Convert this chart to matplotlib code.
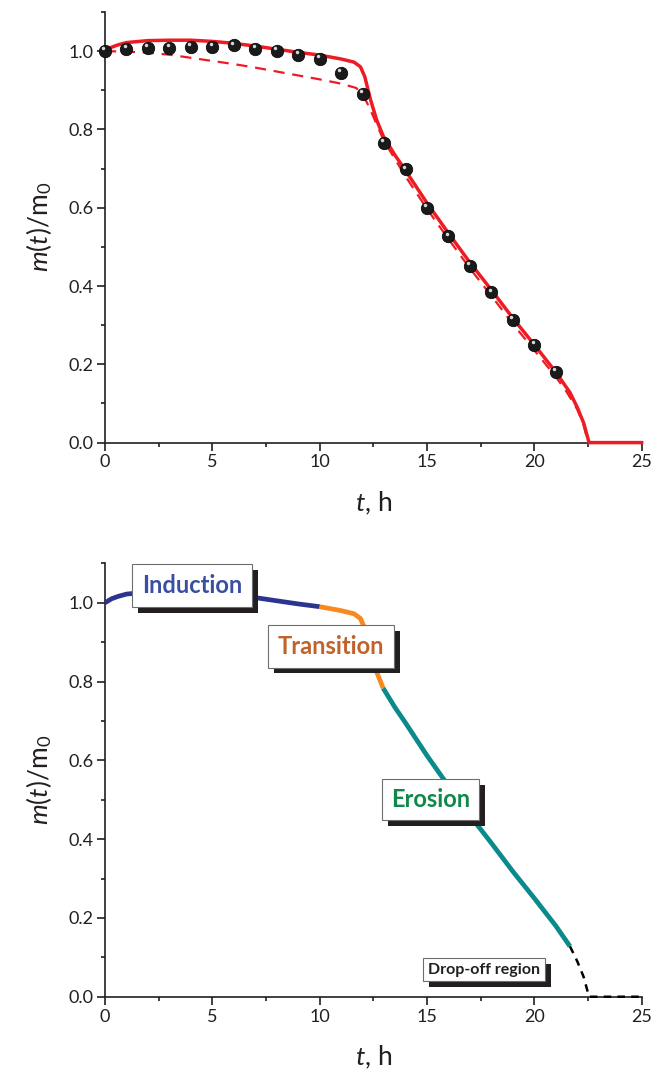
import matplotlib
matplotlib.use("Agg")
import matplotlib.pyplot as plt
import matplotlib.patheffects as pe
from matplotlib.ticker import MultipleLocator
from matplotlib.transforms import ScaledTranslation

plt.rcParams['font.family'] = ['Lato', 'DejaVu Sans']
plt.rcParams['mathtext.fontset'] = 'custom'
plt.rcParams['mathtext.rm'] = 'Lato'
plt.rcParams['mathtext.it'] = 'Lato:italic'

# model curve (solid)
t_model = [0, 0.3, 0.6, 1, 2, 3, 4, 5, 6, 7, 8, 9, 10, 11, 11.6, 11.9, 12.1, 12.37,
           12.65, 12.96, 13.5, 14, 15, 16, 17, 18, 19, 20, 21, 21.66, 22, 22.3, 22.45, 22.55, 25]
m_model = [1.0, 1.01, 1.016, 1.022, 1.027, 1.028, 1.028, 1.025, 1.02, 1.013, 1.005, 0.997,
           0.99, 0.98, 0.972, 0.96, 0.935, 0.876, 0.825, 0.783, 0.735, 0.695, 0.612, 0.535,
           0.46, 0.39, 0.318, 0.25, 0.18, 0.128, 0.09, 0.05, 0.02, 0.0, 0.0]

# second model (dashed)
t_dash = [0, 1, 2, 3, 4, 5, 6, 7, 8, 9, 10, 11, 11.7, 12.0, 12.3, 12.6, 13, 14, 15, 16, 17,
          18, 19, 20, 21, 21.5, 22, 22.3, 22.5, 25]
m_dash = [1.0, 0.999, 0.996, 0.991, 0.983, 0.975, 0.967, 0.958, 0.948, 0.938, 0.928, 0.917,
          0.906, 0.89, 0.858, 0.82, 0.77, 0.68, 0.597, 0.52, 0.445, 0.375, 0.303, 0.236,
          0.168, 0.13, 0.085, 0.045, 0.0, 0.0]

# experimental points
t_exp = list(range(22))
m_exp = [1.0, 1.005, 1.008, 1.008, 1.01, 1.01, 1.015, 1.005, 1.0, 0.99, 0.98, 0.945, 0.89,
         0.765, 0.698, 0.6, 0.527, 0.452, 0.384, 0.313, 0.25, 0.18]

# phase boundaries (t)
t_ind_end = 10
t_trans_end = 12.96
t_eros_end = 21.66

red = '#ed1c24'
axcol = '#231f20'

fig = plt.figure(figsize=(6.54, 10.84), dpi=100)
ax1 = fig.add_axes([0.1606, 0.5917, 0.8205, 0.3972])
ax2 = fig.add_axes([0.1606, 0.0805, 0.8205, 0.3998])


def style(ax):
    ax.set_xlim(0, 25)
    ax.set_ylim(0, 1.1)
    for s in ['top', 'right']:
        ax.spines[s].set_visible(False)
    for s in ['left', 'bottom']:
        ax.spines[s].set_color(axcol)
        ax.spines[s].set_linewidth(1.2)
    ax.xaxis.set_major_locator(MultipleLocator(5))
    ax.xaxis.set_minor_locator(MultipleLocator(2.5))
    ax.yaxis.set_major_locator(MultipleLocator(0.2))
    ax.yaxis.set_minor_locator(MultipleLocator(0.1))
    ax.yaxis.set_major_formatter(lambda v, p: f'{v:.1f}')
    ax.tick_params(which='both', direction='out', color=axcol, width=1.2,
                   labelsize=13, labelcolor=axcol, pad=3)
    ax.tick_params(which='major', length=5.5)
    ax.tick_params(which='minor', length=3)
    ax.set_xlabel(r'$\mathit{t}$, h', fontsize=19, labelpad=14, color=axcol)
    ax.set_ylabel(r'$\mathit{m}(\mathit{t})/\mathrm{m}_{\mathrm{0}}$', fontsize=19, labelpad=10, color=axcol)


style(ax1)
style(ax2)

# top panel
ax1.plot(t_dash, m_dash, color=red, lw=1.6, dashes=(5, 3.5), clip_on=False, zorder=3)
ax1.plot(t_model, m_model, color=red, lw=2.5, clip_on=False, zorder=4)
ax1.plot(t_exp, m_exp, 'o', color='#1a1a1a', ms=9, mec='#000000', mew=0.5,
         clip_on=False, zorder=5)
hl = ScaledTranslation(-1.2 / 72, 2.0 / 72, fig.dpi_scale_trans)
ax1.plot(t_exp, m_exp, 'o', color='#d8d8d8', ms=2.5, mew=0,
         transform=ax1.transData + hl, clip_on=False, zorder=6)

# bottom panel: phases
def seg(t0, t1):
    ts = [t for t in t_model if t0 <= t <= t1]
    ms = [m for t, m in zip(t_model, m_model) if t0 <= t <= t1]
    return ts, ms

ax2.plot(*seg(0, t_ind_end), color='#2b3590', lw=3.4, solid_capstyle='butt', clip_on=False, zorder=3)
ax2.plot(*seg(t_ind_end, t_trans_end), color='#f7891f', lw=3.4, solid_capstyle='butt', zorder=3)
ax2.plot(*seg(t_trans_end, t_eros_end), color='#0a8a8a', lw=3.4, solid_capstyle='butt', zorder=3)
ax2.plot(*seg(t_eros_end, 25), color='black', lw=1.8, dashes=(3, 2.5), clip_on=False, zorder=3)

shadow = [pe.SimplePatchShadow(offset=(4.3, -4.3), shadow_rgbFace='#231f20', alpha=1.0), pe.Normal()]


def label_box(x, y, text, color, size, pad):
    txt = ax2.text(x, y, text, color=color, fontsize=size, fontweight='bold',
                   ha='center', va='center', zorder=10,
                   bbox=dict(boxstyle=f'square,pad={pad}', fc='white', ec='#6d6e71', lw=0.8))
    txt.get_bbox_patch().set_path_effects(shadow)
    return txt


label_box(4.05, 1.043, 'Induction', '#3a4fa0', 17, 0.42)
label_box(10.53, 0.89, 'Transition', '#c0622a', 17, 0.42)
label_box(15.16, 0.50, 'Erosion', '#10884a', 17, 0.38)
label_box(17.65, 0.069, 'Drop-off region', '#231f20', 11.5, 0.3)

fig.savefig('out.png', dpi=100)
